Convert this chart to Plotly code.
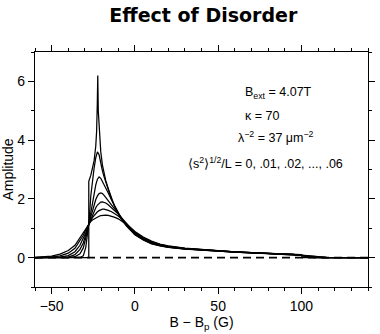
import plotly.graph_objects as go

# Field offset B - B_p (G) shared by the broadened lineshapes
X_BROAD = [-60, -55, -50, -45, -40, -36, -33, -31, -29.5, -28.5, -27.5, -26.5, -25.5,
           -24.5, -23.5, -22.5, -21.5, -20.5, -19.5, -18.5, -17.5, -16, -14, -12, -10,
           -8, -5, -2, 0, 5, 10, 15, 20, 30, 40, 50, 60, 70, 80, 90, 95, 100, 104, 108,
           115, 140]

# Disorder levels <s^2>^(1/2)/L
SIGMAS = [0.01, 0.02, 0.03, 0.04, 0.05, 0.06]

AMP_01 = [0, 0, 0, 0, 0, 0, 0.005, 0.06, 0.35, 0.8, 1.25, 2.1, 2.65, 3.05, 3.4, 3.6, 3.5,
          3.2, 2.95, 2.75, 2.56, 2.3, 1.98, 1.72, 1.5, 1.3, 1.08, 0.89, 0.79, 0.61, 0.48,
          0.41, 0.355, 0.295, 0.252, 0.217, 0.187, 0.162, 0.142, 0.122, 0.112, 0.08, 0.01,
          0, 0, 0]
AMP_02 = [0, 0, 0, 0, 0.003, 0.03, 0.13, 0.33, 0.62, 0.9, 1.2, 1.55, 1.9, 2.2, 2.48, 2.67,
          2.75, 2.7, 2.6, 2.48, 2.36, 2.2, 1.96, 1.74, 1.53, 1.33, 1.1, 0.91, 0.81, 0.62,
          0.49, 0.42, 0.36, 0.3, 0.256, 0.22, 0.19, 0.165, 0.145, 0.124, 0.113, 0.075,
          0.025, 0.003, 0, 0]
AMP_03 = [0, 0, 0, 0.005, 0.02, 0.1, 0.28, 0.5, 0.75, 0.97, 1.18, 1.4, 1.62, 1.82, 1.98,
          2.1, 2.18, 2.2, 2.18, 2.12, 2.05, 1.95, 1.8, 1.65, 1.5, 1.35, 1.13, 0.94, 0.83,
          0.64, 0.5, 0.43, 0.37, 0.305, 0.26, 0.223, 0.193, 0.168, 0.147, 0.125, 0.11,
          0.075, 0.035, 0.01, 0, 0]
AMP_04 = [0, 0, 0.005, 0.02, 0.07, 0.2, 0.42, 0.64, 0.85, 1.02, 1.17, 1.32, 1.46, 1.59,
          1.7, 1.79, 1.85, 1.89, 1.9, 1.89, 1.86, 1.8, 1.7, 1.6, 1.48, 1.35, 1.15, 0.96,
          0.85, 0.66, 0.52, 0.44, 0.38, 0.31, 0.264, 0.226, 0.195, 0.17, 0.148, 0.125,
          0.108, 0.078, 0.045, 0.02, 0.003, 0]
AMP_05 = [0, 0.005, 0.02, 0.06, 0.15, 0.32, 0.56, 0.76, 0.93, 1.06, 1.17, 1.27, 1.36, 1.44,
          1.51, 1.56, 1.6, 1.63, 1.65, 1.65, 1.64, 1.61, 1.56, 1.5, 1.42, 1.32, 1.15, 0.97,
          0.87, 0.68, 0.54, 0.45, 0.39, 0.315, 0.268, 0.229, 0.197, 0.172, 0.15, 0.125,
          0.107, 0.08, 0.055, 0.03, 0.007, 0]
AMP_06 = [0.005, 0.02, 0.05, 0.12, 0.24, 0.42, 0.68, 0.85, 1.0, 1.1, 1.17, 1.23, 1.28,
          1.32, 1.36, 1.39, 1.41, 1.43, 1.44, 1.45, 1.45, 1.44, 1.41, 1.37, 1.32, 1.25,
          1.13, 0.99, 0.89, 0.7, 0.56, 0.46, 0.4, 0.32, 0.272, 0.232, 0.2, 0.174, 0.152,
          0.125, 0.106, 0.082, 0.06, 0.038, 0.012, 0]

# Ideal (undisordered) lattice lineshape: step at B_min, log peak at B_saddle
X_IDEAL = [-60, -27.7, -27.7, -26.5, -25.5, -24.5, -23.5, -23, -22.6, -22.3, -22.0, -21.5,
           -20.5, -19.5, -18.5, -17.5, -16, -14, -12, -10, -8, -5, -2, 0, 5, 10, 15, 20,
           30, 40, 50, 60, 70, 80, 90, 95, 100, 100.5, 140]
AMP_IDEAL = [0, 0, 2.6, 2.8, 3.05, 3.3, 3.8, 4.3, 5.2, 6.2, 5.0, 4.4, 3.6, 3.15, 2.85,
             2.62, 2.35, 2.0, 1.72, 1.5, 1.3, 1.07, 0.88, 0.78, 0.6, 0.47, 0.4, 0.35,
             0.29, 0.25, 0.215, 0.185, 0.16, 0.14, 0.12, 0.11, 0.1, 0, 0]

BASELINE_X = [-60, 140]
BASELINE_Y = [0, 0]

X_TICKS = [-50, 0, 50, 100]
Y_TICKS = [0, 2, 4, 6]

FONT = "Liberation Sans, Arial, sans-serif"

fig = go.Figure()

fig.add_trace(go.Scatter(x=BASELINE_X, y=BASELINE_Y, mode="lines",
                         line=dict(color="black", width=1.6, dash="8px,5px"),
                         hoverinfo="skip"))

for amp in [AMP_06, AMP_05, AMP_04, AMP_03, AMP_02, AMP_01]:
    fig.add_trace(go.Scatter(x=X_BROAD, y=amp, mode="lines",
                             line=dict(color="black", width=1.25)))

fig.add_trace(go.Scatter(x=X_IDEAL, y=AMP_IDEAL, mode="lines",
                         line=dict(color="black", width=1.25)))

axis_common = dict(
    showline=True, linecolor="black", linewidth=1.3, mirror="ticks",
    ticks="outside", ticklen=6, tickwidth=1.3, tickcolor="black",
    showgrid=False, zeroline=False, automargin=False,
    tickfont=dict(family=FONT, size=14, color="black"),
)

fig.update_xaxes(range=[-60, 140], tickvals=X_TICKS,
                 minor=dict(ticks="outside", dtick=10, tick0=0, ticklen=3,
                            tickwidth=1.1, tickcolor="black"),
                 title=dict(text="B − B<sub>p</sub> (G)", standoff=0,
                            font=dict(family=FONT, size=14, color="black")),
                 **axis_common)
fig.update_yaxes(range=[-1, 7], tickvals=Y_TICKS,
                 minor=dict(ticks="outside", dtick=1, tick0=0, ticklen=3,
                            tickwidth=1.1, tickcolor="black"),
                 title=dict(text="Amplitude", standoff=2,
                            font=dict(family=FONT, size=14, color="black")),
                 **axis_common)

ann_font = dict(family=FONT, size=12.5, color="black")
labels = [
    (243, 93, "B<sub>ext</sub> = 4.07T"),
    (243, 116, "κ = 70"),
    (236, 137, "λ<sup>−2</sup> = 37 μm<sup>−2</sup>"),
    (186, 163, "⟨s<sup>2</sup>⟩<sup>1/2</sup>/L = 0, .01, .02, ..., .06"),
]
for px, py, txt in labels:
    fig.add_annotation(x=(px - 35) / 333, y=1 - (py - 52) / 235, xref="paper", yref="paper",
                       text=txt, showarrow=False, xanchor="left", yanchor="middle",
                       font=ann_font)

fig.update_layout(
    width=380, height=334,
    margin=dict(l=35, r=12, t=52, b=47),
    paper_bgcolor="white", plot_bgcolor="white",
    showlegend=False,
    title=dict(text="<b>Effect of Disorder</b>", x=0.535, xanchor="center",
               y=0.955, yanchor="middle",
               font=dict(family="DejaVu Sans, sans-serif", size=19, color="black")),
)

fig.write_html("out.html")
